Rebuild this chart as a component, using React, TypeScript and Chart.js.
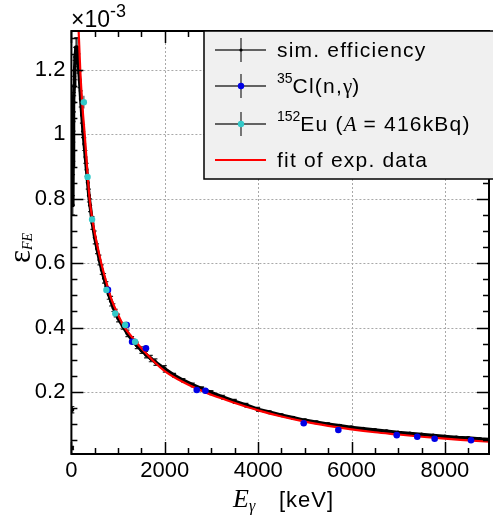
import React, { useEffect, useRef } from 'react';
import { Chart, registerables } from 'chart.js';

Chart.register(...registerables);

// ---- axis ranges & ticks ----
const X_MIN = 0;
const X_MAX = 8945;
const Y_MIN = 0.0075;
const Y_MAX = 1.321;
const xTickValues = [0, 2000, 4000, 6000, 8000];
const xTickLabels = ['0', '2000', '4000', '6000', '8000'];
const yTickValues = [0.2, 0.4, 0.6, 0.8, 1.0, 1.2];
const yTickLabels = ['0.2', '0.4', '0.6', '0.8', '1', '1.2'];

// ---- simulated efficiency (E in keV, eff in 1e-3) ----
const simE = [
  15, 20, 30, 35, 40, 45, 50, 60, 70, 80, 100,
  120, 150, 175, 200, 225, 250, 275, 300, 325, 350, 375, 400,
  450, 500, 550, 600, 650, 700, 750, 800, 850, 900, 950, 1000,
  1100, 1200, 1300, 1400, 1500, 1600, 1700, 1800, 2000,
  2200, 2400, 2600, 2800, 3000, 3250, 3500, 3750, 4000,
  4250, 4500, 4750, 5000, 5250, 5500, 5750, 6000,
  6250, 6500, 6750, 7000, 7250, 7500, 7750, 8000,
  8250, 8500, 8750, 9000,
];
const simEff = [
  0.026, 0.145, 0.78, 0.905, 0.946, 1.04, 1.10, 1.15, 1.20, 1.24, 1.27,
  1.27, 1.22, 1.17, 1.11, 1.06, 1.01, 0.97, 0.93, 0.89, 0.85, 0.81, 0.78,
  0.725, 0.68, 0.645, 0.61, 0.58, 0.553, 0.528, 0.503, 0.482, 0.462, 0.445, 0.43,
  0.405, 0.382, 0.362, 0.345, 0.33, 0.316, 0.304, 0.293, 0.272,
  0.252, 0.236, 0.222, 0.21, 0.198, 0.184, 0.171, 0.159, 0.146,
  0.137, 0.128, 0.12, 0.112, 0.106, 0.1, 0.095, 0.09,
  0.086, 0.082, 0.078, 0.074, 0.071, 0.068, 0.065, 0.062,
  0.059, 0.057, 0.054, 0.052,
];
const simErr = [
  0.005, 0.01, 0.03, 0.03, 0.03, 0.03, 0.03, 0.03, 0.03, 0.03, 0.03,
  0.03, 0.03, 0.025, 0.025, 0.025, 0.02, 0.02, 0.02, 0.02, 0.02, 0.02, 0.02,
  0.02, 0.02, 0.015, 0.015, 0.015, 0.015, 0.015, 0.015, 0.015, 0.012, 0.012, 0.012,
  0.01, 0.01, 0.01, 0.01, 0.01, 0.01, 0.01, 0.01, 0.01,
  0.006, 0.006, 0.006, 0.006, 0.006, 0.006, 0.006, 0.006, 0.006,
  0.004, 0.004, 0.004, 0.004, 0.004, 0.004, 0.004, 0.004,
  0.003, 0.003, 0.003, 0.003, 0.003, 0.003, 0.003, 0.003,
  0.003, 0.003, 0.003, 0.003,
];

// ---- 35Cl(n,gamma) measured ----
const clE = [783, 1185, 1300, 1597, 2685, 2870, 4976, 5718, 6969, 7408, 7781, 8560];
const clEff = [0.517, 0.408, 0.356, 0.336, 0.206, 0.204, 0.103, 0.082, 0.066, 0.061, 0.055, 0.05];
const clErr = [0.012, 0.01, 0.01, 0.01, 0.008, 0.006, 0.004, 0.004, 0.003, 0.003, 0.003, 0.003];

// ---- 152Eu source measured ----
const euE = [267, 346, 443, 749, 940, 1152, 1364];
const euEff = [1.10, 0.868, 0.736, 0.517, 0.444, 0.408, 0.356];
const euErr = [0.02, 0.015, 0.012, 0.01, 0.01, 0.01, 0.01];

// ---- fit of experimental data ----
const fitE = [140, 150, 190, 240, 285, 335, 390, 450, 540, 640, 750, 865, 1000, 1120, 1300, 1468, 1745, 2000, 2400, 2887, 3300, 3600, 4000, 4500, 5000, 5500, 6000, 6500, 7000, 7500, 8000, 8500, 9000];
const fitEff = [1.37, 1.34, 1.2, 1.08, 1.0, 0.9, 0.8, 0.735, 0.665, 0.6, 0.54, 0.485, 0.44, 0.405, 0.37, 0.341, 0.298, 0.265, 0.23, 0.198, 0.176, 0.161, 0.143, 0.124, 0.108, 0.095, 0.084, 0.075, 0.068, 0.061, 0.055, 0.05, 0.045];

const SANS = 'Liberation Sans';
const SERIF = 'Liberation Serif';
const simColor = '#000000';
const clColor = '#0000e6';
const euColor = '#33c9c9';
const fitColor = '#ff0000';

type Part = { t: string; f: string; dy?: number; ls?: string };

function drawParts(ctx: CanvasRenderingContext2D, parts: Part[], x: number, y: number) {
  let cx = x;
  for (const p of parts) {
    ctx.font = p.f;
    (ctx as any).letterSpacing = p.ls || '0px';
    ctx.fillText(p.t, cx, y + (p.dy || 0));
    cx += ctx.measureText(p.t).width;
  }
  (ctx as any).letterSpacing = '0px';
  return cx;
}

const rootPlugin = {
  id: 'rootStyle',
  beforeDatasetsDraw(chart: any) {
    const { ctx, chartArea: a, scales } = chart;
    const xs = scales.x, ys = scales.y;
    ctx.save();
    // dotted grid
    ctx.strokeStyle = '#a8a8a8';
    ctx.lineWidth = 1;
    ctx.setLineDash([2, 2]);
    for (const v of xTickValues) {
      const px = Math.round(xs.getPixelForValue(v)) + 0.5;
      if (px <= a.left + 2 || px >= a.right - 2) continue;
      ctx.beginPath(); ctx.moveTo(px, a.top); ctx.lineTo(px, a.bottom); ctx.stroke();
    }
    for (const v of yTickValues) {
      const py = Math.round(ys.getPixelForValue(v)) + 0.5;
      ctx.beginPath(); ctx.moveTo(a.left, py); ctx.lineTo(a.right, py); ctx.stroke();
    }
    ctx.setLineDash([]);
    // error bars
    ctx.beginPath();
    ctx.rect(a.left, a.top, a.right - a.left, a.bottom - a.top);
    ctx.clip();
    const drawErr = (E: number[], V: number[], Er: number[], color: string, cap: number) => {
      ctx.strokeStyle = color;
      ctx.lineWidth = 1.2;
      for (let i = 0; i < E.length; i++) {
        const px = xs.getPixelForValue(E[i]);
        const p1 = ys.getPixelForValue(V[i] - Er[i]);
        const p2 = ys.getPixelForValue(V[i] + Er[i]);
        ctx.beginPath();
        ctx.moveTo(px, p1); ctx.lineTo(px, p2);
        if (cap > 0) {
          ctx.moveTo(px - cap, p1); ctx.lineTo(px + cap, p1);
          ctx.moveTo(px - cap, p2); ctx.lineTo(px + cap, p2);
        }
        ctx.stroke();
      }
    };
    drawErr(simE, simEff, simErr, '#222222', 2);
    drawErr(clE, clEff, clErr, '#555555', 0);
    drawErr(euE, euEff, euErr, '#555555', 0);
    ctx.restore();
  },
  afterDraw(chart: any) {
    const { ctx, chartArea: a, scales } = chart;
    const xs = scales.x, ys = scales.y;
    ctx.save();
    // frame
    ctx.strokeStyle = '#000';
    ctx.lineWidth = 2;
    ctx.strokeRect(a.left, a.top, a.right - a.left, a.bottom - a.top);
    // ticks
    ctx.lineWidth = 1.5;
    ctx.beginPath();
    for (let v = X_MIN; v <= X_MAX; v += 500) {
      const major = v % 2000 === 0;
      const len = major ? 12 : 6;
      const px = Math.round(xs.getPixelForValue(v)) + 0.5;
      ctx.moveTo(px, a.bottom); ctx.lineTo(px, a.bottom - len);
      ctx.moveTo(px, a.top); ctx.lineTo(px, a.top + len);
    }
    for (let k = 1; k * 0.05 <= Y_MAX; k++) {
      const v = k * 0.05;
      const major = k % 4 === 0;
      const len = major ? 12 : 6;
      const py = Math.round(ys.getPixelForValue(v)) + 0.5;
      ctx.moveTo(a.left, py); ctx.lineTo(a.left + len, py);
      ctx.moveTo(a.right, py); ctx.lineTo(a.right - len, py);
    }
    ctx.stroke();

    // exponent label
    ctx.fillStyle = '#000';
    ctx.textBaseline = 'alphabetic';
    ctx.textAlign = 'left';
    drawParts(ctx, [
      { t: '\u00d710', f: `23px ${SANS}` },
      { t: '-3', f: `18px ${SANS}`, dy: -10 },
    ], 71, 27);

    // x title
    drawParts(ctx, [
      { t: 'E', f: `italic 26px ${SERIF}` },
      { t: '\u03b3', f: `italic 16px ${SERIF}`, dy: 4 },
    ], 233, 507);
    drawParts(ctx, [{ t: '[keV]', f: `22px ${SANS}`, ls: '1px' }], 279, 507);

    // y title (rotated)
    ctx.save();
    ctx.translate(30, 263);
    ctx.rotate(-Math.PI / 2);
    drawParts(ctx, [
      { t: '\u03b5', f: `31px ${SERIF}` },
      { t: 'FE', f: `italic 14px ${SERIF}`, dy: 2 },
    ], 0, 0);
    ctx.restore();

    // legend box
    const L = 204, T = 31, R = 496, B = 179;
    ctx.fillStyle = '#f0f0f0';
    ctx.fillRect(L, T, R - L, B - T);
    ctx.strokeStyle = '#000';
    ctx.lineWidth = 1.5;
    ctx.strokeRect(L, T, R - L, B - T);

    const symX0 = 215, symX1 = 266, symC = 241;
    const rows = [50, 86, 124, 160];
    const baseOff = 6.5;
    const drawErrSym = (cy: number, color: string, r: number) => {
      ctx.strokeStyle = '#333';
      ctx.lineWidth = 1.3;
      ctx.beginPath();
      ctx.moveTo(symX0, cy); ctx.lineTo(symX1, cy);
      ctx.moveTo(symC, cy - 12); ctx.lineTo(symC, cy + 12);
      ctx.stroke();
      ctx.fillStyle = color;
      ctx.beginPath(); ctx.arc(symC, cy, r, 0, Math.PI * 2); ctx.fill();
    };
    drawErrSym(rows[0], simColor, 1.6);
    drawErrSym(rows[1], clColor, 3.2);
    drawErrSym(rows[2], euColor, 3.2);
    ctx.strokeStyle = fitColor;
    ctx.lineWidth = 2;
    ctx.beginPath(); ctx.moveTo(symX0, rows[3]); ctx.lineTo(symX1, rows[3]); ctx.stroke();

    ctx.fillStyle = '#000';
    const tx = 277;
    const F = `21px ${SANS}`;
    const LS = '1.2px';
    drawParts(ctx, [{ t: 'sim. efficiency', f: F, ls: LS }], tx, rows[0] + baseOff);
    drawParts(ctx, [
      { t: '35', f: `14px ${SANS}`, dy: -10 },
      { t: 'Cl(n,', f: F, ls: LS },
      { t: '\u03b3', f: `21px ${SERIF}` },
      { t: ')', f: F, ls: LS },
    ], tx, rows[1] + baseOff);
    drawParts(ctx, [
      { t: '152', f: `14px ${SANS}`, dy: -10 },
      { t: 'Eu (', f: F, ls: LS },
      { t: 'A', f: `italic 21px ${SERIF}` },
      { t: ' = 416kBq)', f: F, ls: LS },
    ], tx, rows[2] + baseOff);
    drawParts(ctx, [{ t: 'fit of exp. data', f: F, ls: LS }], tx, rows[3] + baseOff);
    ctx.restore();
  },
};

export default function App() {
  const ref = useRef<HTMLCanvasElement | null>(null);
  useEffect(() => {
    document.body.style.margin = '0';
    document.body.style.overflow = 'hidden';
    const canvas = ref.current;
    if (!canvas) return;
    const pts = (E: number[], V: number[]) => E.map((x, i) => ({ x, y: V[i] }));
    const chart = new Chart(canvas, {
      type: 'scatter',
      data: {
        datasets: [
          {
            label: '152Eu (A = 416kBq)',
            data: pts(euE, euEff),
            order: 1,
            showLine: false,
            pointRadius: 3.2,
            pointBackgroundColor: euColor,
            pointBorderWidth: 0,
          },
          {
            label: '35Cl(n,γ)',
            data: pts(clE, clEff),
            order: 2,
            showLine: false,
            pointRadius: 3.3,
            pointBackgroundColor: clColor,
            pointBorderWidth: 0,
          },
          {
            label: 'fit of exp. data',
            data: pts(fitE, fitEff),
            order: 3,
            showLine: true,
            borderColor: fitColor,
            borderWidth: 2.2,
            pointRadius: 0,
            cubicInterpolationMode: 'monotone',
          },
          {
            label: 'sim. efficiency',
            data: pts(simE, simEff),
            order: 4,
            showLine: true,
            borderColor: simColor,
            borderWidth: 3.5,
            pointRadius: 2,
            pointBackgroundColor: simColor,
            pointBorderWidth: 0,
            segment: {
              borderColor: (c: any) => (c.p0DataIndex < 2 ? 'rgba(0,0,0,0)' : undefined),
            },
          },
        ],
      } as any,
      options: {
        responsive: false,
        animation: false,
        devicePixelRatio: 1,
        layout: { padding: { top: 31, right: 0, left: 0, bottom: 0 } },
        plugins: { legend: { display: false }, tooltip: { enabled: false } },
        scales: {
          x: {
            type: 'linear',
            min: X_MIN,
            max: X_MAX,
            afterBuildTicks: (s: any) => { s.ticks = xTickValues.map((v) => ({ value: v })); },
            afterFit: (s: any) => { s.height = 61; },
            grid: { display: false, drawTicks: false },
            border: { display: false },
            ticks: {
              color: '#000',
              font: { family: SANS, size: 22 },
              padding: 4,
              maxRotation: 0,
              autoSkip: false,
              callback: (_v: any, i: number) => xTickLabels[i],
            },
          },
          y: {
            type: 'linear',
            min: Y_MIN,
            max: Y_MAX,
            afterBuildTicks: (s: any) => { s.ticks = yTickValues.map((v) => ({ value: v })); },
            afterFit: (s: any) => { s.width = 71.4; },
            grid: { display: false, drawTicks: false },
            border: { display: false },
            ticks: {
              color: '#000',
              font: { family: SANS, size: 22 },
              padding: 6,
              autoSkip: false,
              callback: (_v: any, i: number) => yTickLabels[i],
            },
          },
        },
      } as any,
      plugins: [rootPlugin],
    });
    return () => chart.destroy();
  }, []);
  return (
    <div style={{ width: 493, height: 515, position: 'relative' }}>
      <canvas ref={ref} width={493} height={515} style={{ display: 'block' }} />
    </div>
  );
}
